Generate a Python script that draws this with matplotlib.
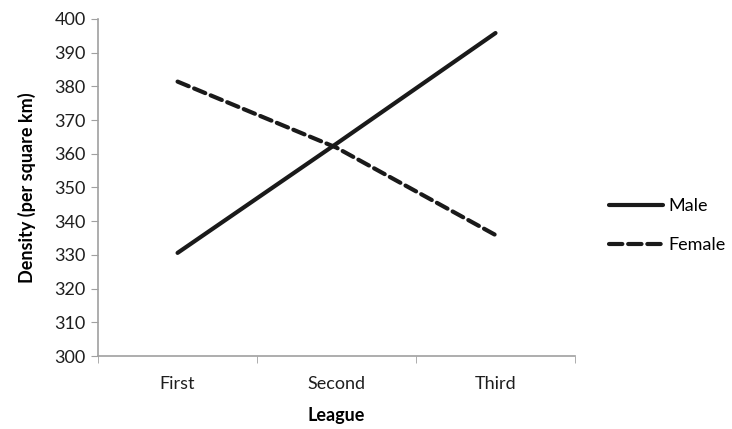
import matplotlib
matplotlib.use("Agg")
import matplotlib.pyplot as plt
from matplotlib.lines import Line2D

# data
leagues = ["First", "Second", "Third"]
male = [330.6, 363.0, 395.8]
female = [381.4, 361.8, 335.9]

plt.rcParams['font.family'] = ['Lato', 'DejaVu Sans']

DASH = (0, (2.9, 1.4))

fig = plt.figure(figsize=(7.32, 4.29), dpi=100)
ax = fig.add_axes([0.134, 0.170, 0.6515, 0.786])

x = list(range(len(leagues)))
ax.plot(x, male, color='#1a1a1a', lw=3, solid_capstyle='round', label='Male')
ax.plot(x, female, color='#1a1a1a', lw=3, linestyle=DASH,
        dash_capstyle='round', label='Female')

ax.set_ylim(300, 400)
ax.set_yticks(range(300, 401, 10))
ax.set_xlim(-0.5, len(leagues) - 0.5)
ax.set_xticks(x)
ax.set_xticklabels(leagues)
ax.set_xticks([i - 0.5 for i in range(len(leagues) + 1)], minor=True)
ax.tick_params(axis='x', which='major', length=0, pad=14)
ax.tick_params(axis='x', which='minor', length=5, color='#a0a0a0', direction='out')
ax.tick_params(axis='y', length=5, color='#a0a0a0', direction='out', pad=4)
ax.tick_params(labelsize=13, labelcolor='#1e1e1e')

for s in ['top', 'right']:
    ax.spines[s].set_visible(False)
for s in ['left', 'bottom']:
    ax.spines[s].set_color('#a0a0a0')
    ax.spines[s].set_linewidth(1.2)

ax.set_xlabel('League', fontsize=13, fontweight='bold', labelpad=11)
ax.set_ylabel('Density (per square km)', fontsize=13, fontweight='bold', labelpad=13)

handles = [Line2D([], [], color='#1a1a1a', lw=3, solid_capstyle='round'),
           Line2D([], [], color='#1a1a1a', lw=3, linestyle=(0, (3.2, 1.4)),
                  dash_capstyle='round')]
fig.legend(handles, ['Male', 'Female'], loc='center left',
           bbox_to_anchor=(0.81, 0.474), frameon=False, fontsize=13,
           handlelength=3.0, handletextpad=0.3, labelspacing=1.25)

fig.savefig('out.png', dpi=100)
